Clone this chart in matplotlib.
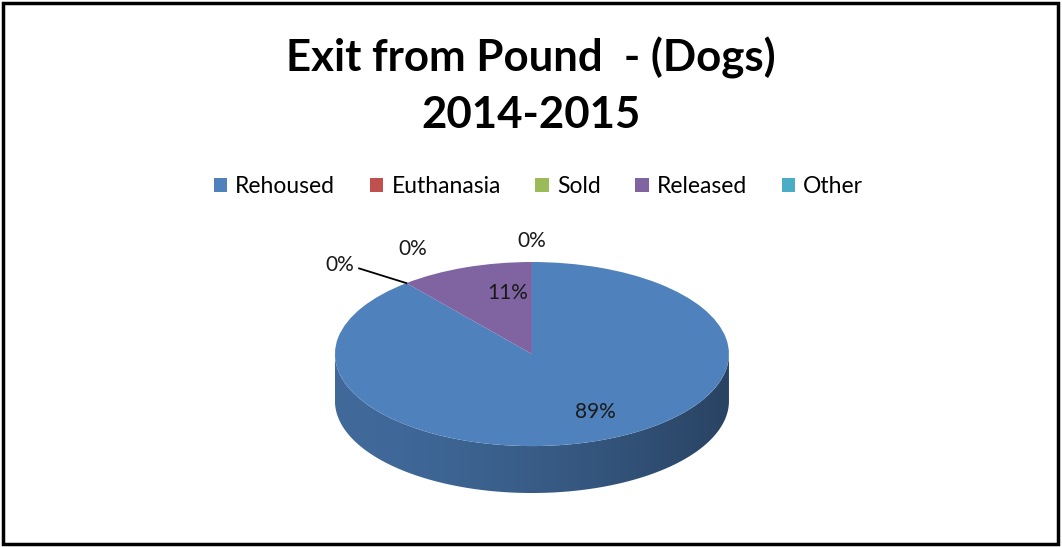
import numpy as np
import matplotlib
matplotlib.use("Agg")
import matplotlib.pyplot as plt
from matplotlib.patches import Patch, Rectangle, Polygon
from matplotlib.colors import to_rgb

categories = ["Rehoused", "Euthanasia", "Sold", "Released", "Other"]
values = [89, 0, 0, 11, 0]
pct_labels = ["89%", "0%", "0%", "11%", "0%"]
colors = ["#4F81BD", "#C0504D", "#9BBB59", "#8064A2", "#4BACC6"]

title = "Exit from Pound  - (Dogs)\n2014-2015"
FONT = "Lato"

fig = plt.figure(figsize=(10.62, 5.47), dpi=100)

# outer frame of the chart area
fig.patches.append(Rectangle((0.003, 0.006), 0.993, 0.988, transform=fig.transFigure,
                             fill=False, edgecolor="black", linewidth=2.5))

fig.text(0.5, 0.843, title, ha="center", va="center", fontsize=31.5,
         fontweight="bold", family=FONT, linespacing=1.5)

handles = [Patch(facecolor=c, edgecolor="none") for c in colors]
fig.legend(handles, categories, loc="center", bbox_to_anchor=(0.507, 0.659), ncol=5,
           frameon=False, prop={"family": FONT, "size": 16.5}, handlelength=0.6,
           handleheight=0.6, handletextpad=0.35, columnspacing=1.5)

# pie axes: top ellipse spans the full width, depth below
depth = 0.51
ax = fig.add_axes([0.3154, 0.0987, 0.371, 0.4223])
wedges, _ = ax.pie(values, colors=colors, startangle=90, counterclock=False,
                   wedgeprops={"linewidth": 0})
for w in wedges:
    w.set_zorder(3)
ax.set_aspect("auto")
ax.set_xlim(-1, 1)
ax.set_ylim(-1 - depth, 1)
ax.axis("off")

# side wall of the disc (front half): Rehoused covers the whole front here
side_col = colors[0]
for w, c in zip(wedges, colors):
    span = w.theta2 - w.theta1
    if span > 0 and (270 - w.theta1) % 360 <= span:
        side_col = c
t = np.radians(np.linspace(180, 360, 200))
xs = np.concatenate([np.cos(t), np.cos(t[::-1])])
ys = np.concatenate([np.sin(t), np.sin(t[::-1]) - depth])
wall = Polygon(np.column_stack([xs, ys]), closed=True, facecolor="none",
               edgecolor="none", transform=ax.transData)
ax.add_patch(wall)
gx = np.linspace(-1, 1, 300)
shade = 0.82 - 0.30 * ((gx + 1) / 2) ** 1.5
grad = np.array([[tuple(v * s for v in to_rgb(side_col)) for s in shade]] * 2)
img = ax.imshow(grad, extent=(-1, 1, -1 - depth, 0.05), aspect="auto",
                interpolation="bilinear", zorder=1)
img.set_clip_path(wall)
ax.set_xlim(-1, 1)
ax.set_ylim(-1 - depth, 1)

# data labels
txt = dict(family=FONT, fontsize=15, color="#1a1a1a", ha="center", va="center",
           zorder=5)
label_r = {0: (0.95, 0.67), 3: (0.37, 0.70)}
for i, (w, lab) in enumerate(zip(wedges, pct_labels)):
    span = w.theta2 - w.theta1
    if values[i] > 0:
        mid = np.radians(w.theta1 + span / 2)
        rx, ry = label_r.get(i, (0.68, 0.68))
        ax.text(rx * np.cos(mid), ry * np.sin(mid), lab, **txt)

ex, ey = np.cos(np.radians(wedges[0].theta1)), np.sin(np.radians(wedges[0].theta1))
# Euthanasia (with leader line), Sold, Other
ax.plot([ex - 0.24, ex], [ey + 0.16, ey], color="black", linewidth=1.3,
        clip_on=False, zorder=5)
ax.text(ex - 0.34, ey + 0.2, pct_labels[1], clip_on=False, **txt)
ax.text(ex + 0.03, ey + 0.37, pct_labels[2], clip_on=False, **txt)
ox, oy = np.cos(np.radians(wedges[4].theta1)), np.sin(np.radians(wedges[4].theta1))
ax.text(ox, oy + 0.23, pct_labels[4], clip_on=False, **txt)

fig.savefig("out.png", dpi=100)
